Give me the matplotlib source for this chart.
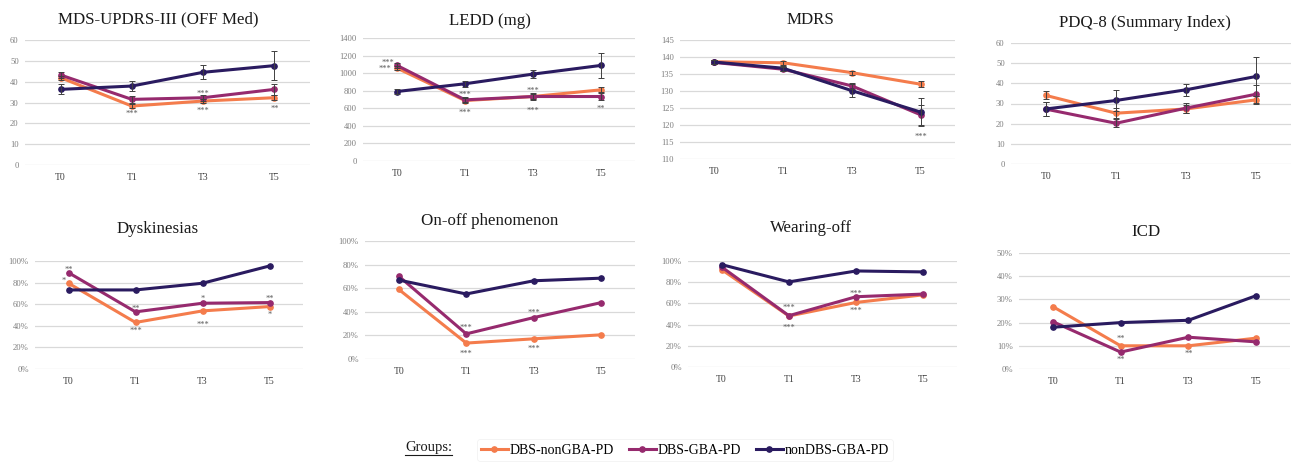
import matplotlib
matplotlib.use('Agg')
import matplotlib.pyplot as plt
import matplotlib.ticker as mticker
from matplotlib.lines import Line2D

plt.rcParams['font.family'] = ['Liberation Serif', 'DejaVu Serif']

W, H = 1294, 462

timepoints = ['T0', 'T1', 'T3', 'T5']
groups = ['DBS-nonGBA-PD', 'DBS-GBA-PD', 'nonDBS-GBA-PD']
colors = ['#F47C4C', '#962A6E', '#2A1B60']

# order of series in every list: DBS-nonGBA-PD, DBS-GBA-PD, nonDBS-GBA-PD
updrs_mean = [[41.9, 28.3, 30.7, 32.3], [43.2, 31.5, 32.3, 36.3], [36.3, 37.9, 44.5, 47.7]]
updrs_err = [[1.0, 1.0, 1.0, 1.2], [1.5, 1.5, 1.5, 2.5], [2.4, 2.4, 3.3, 6.8]]

ledd_mean = [[1057, 688, 734, 810], [1088, 696, 734, 734], [791, 879, 989, 1088]]
ledd_err = [[25, 25, 30, 30], [30, 30, 35, 45], [30, 35, 45, 143]]

mdrs_mean = [[138.6, 138.3, 135.4, 132.0], [138.4, 136.4, 131.5, 123.0], [138.5, 136.7, 130.1, 123.8]]
mdrs_err = [[0.6, 0.6, 0.6, 0.8], [0.6, 0.6, 1.0, 3.0], [0.6, 0.8, 2.0, 4.0]]

pdq_mean = [[34.0, 25.2, 27.3, 31.8], [27.2, 20.2, 27.7, 34.6], [27.3, 31.5, 36.8, 43.4]]
pdq_err = [[2.0, 2.5, 2.0, 2.0], [3.5, 2.0, 2.5, 4.5], [3.5, 5.3, 3.0, 9.5]]

dysk_pct = [[79.4, 43.1, 53.8, 57.8], [89.2, 52.9, 60.9, 61.5], [73.2, 73.2, 79.4, 95.4]]
onoff_pct = [[59.0, 13.5, 17.1, 20.5], [70.2, 21.3, 35.1, 47.8], [66.9, 55.1, 66.3, 68.5]]
wear_pct = [[91.9, 48.1, 60.9, 68.1], [94.4, 48.4, 66.3, 68.8], [96.6, 80.3, 90.6, 89.7]]
icd_pct = [[26.9, 10.0, 10.0, 13.3], [20.4, 7.3, 13.7, 11.7], [18.0, 20.0, 21.0, 31.6]]

# significance marks: (timepoint index, x shift, y value, text)
updrs_sig = [(1, 0, 25.6, '***'), (2, 0, 35.5, '***'), (2, 0, 27.2, '***'), (3, 0, 28.0, '**')]
ledd_sig = [(0, -0.13, 1150, '***'), (0, -0.18, 1075, '***'), (1, 0, 780, '***'), (1, 0, 574, '***'),
            (2, 0, 829, '***'), (2, 0, 601, '***'), (3, 0, 628, '**')]
mdrs_sig = [(3, 0, 117.4, '***')]
dysk_sig = [(0, 0, 93.8, '**'), (0, -0.07, 83.7, '*'), (1, 0, 58.5, '**'), (1, 0, 37.8, '***'),
            (2, 0, 67.0, '*'), (2, 0, 43.4, '***'), (3, 0, 67.0, '**'), (3, 0, 52.3, '*')]
onoff_sig = [(1, 0, 28.9, '***'), (1, 0, 6.5, '***'), (2, 0, 41.0, '***'), (2, 0, 10.7, '***')]
wear_sig = [(1, 0, 58.4, '***'), (1, 0, 39.7, '***'), (2, 0, 71.6, '***'), (2, 0, 55.3, '***')]
icd_sig = [(1, 0, 14.0, '**'), (1, 0, 5.0, '**'), (2, 0, 7.6, '**')]

# title, means, errors, y range, y step, percent?, marks, plot box px (l, r, top, bottom), title px
panels = [
    ('MDS-UPDRS-III (OFF Med)', updrs_mean, updrs_err, (0, 60), 10, False, updrs_sig, (25, 310, 40, 165), (158, 19)),
    ('LEDD (mg)', ledd_mean, ledd_err, (0, 1400), 200, False, ledd_sig, (363, 635, 38, 161), (490, 21)),
    ('MDRS', mdrs_mean, mdrs_err, (110, 145), 5, False, mdrs_sig, (680, 955, 40, 159), (810, 20)),
    ('PDQ-8 (Summary Index)', pdq_mean, pdq_err, (0, 60), 10, False, [], (1011, 1291, 43, 164), (1145, 23)),
    ('Dyskinesias', dysk_pct, None, (0, 100), 20, True, dysk_sig, (35, 303, 261, 369), (158, 229)),
    ('On-off phenomenon', onoff_pct, None, (0, 100), 20, True, onoff_sig, (365, 635, 241, 359), (490, 221)),
    ('Wearing-off', wear_pct, None, (0, 100), 20, True, wear_sig, (688, 957, 261, 367), (811, 228)),
    ('ICD', icd_pct, None, (0, 50), 10, True, icd_sig, (1019, 1290, 253, 369), (1146, 232)),
]

fig = plt.figure(figsize=(W / 100, H / 100), dpi=100)

for title, means, errs, ylim, step, pct, sig, box, tpos in panels:
    l, r, t, b = box
    ax = fig.add_axes([l / W, 1 - b / H, (r - l) / W, (b - t) / H])
    x = range(len(timepoints))
    for i, g in enumerate(groups):
        ax.plot(x, means[i], color=colors[i], lw=2.2, marker='o', ms=3.8,
                clip_on=False, zorder=3 + i)
        if errs is not None:
            ax.errorbar(x, means[i], yerr=errs[i], fmt='none', ecolor='#404040',
                        elinewidth=0.7, capsize=2, capthick=0.7, zorder=6)
    for ti, dx, yv, txt in sig:
        ax.annotate(txt, (ti + dx, yv), xytext=(0, -3.3), textcoords='offset points',
                    ha='center', va='baseline', fontsize=6, color='#595959', zorder=8)
    ax.set_xlim(-0.5, 3.5)
    ax.set_ylim(*ylim)
    ax.set_xticks(list(x))
    ax.set_xticklabels(timepoints)
    ax.set_yticks(range(ylim[0], ylim[1] + 1, step))
    if pct:
        ax.yaxis.set_major_formatter(mticker.PercentFormatter(xmax=100, decimals=0))
    for s in ax.spines.values():
        s.set_visible(False)
    ax.yaxis.grid(True, color='#d9d9d9', lw=0.9)
    ax.set_axisbelow(True)
    ax.tick_params(axis='y', length=0, pad=4.5, labelsize=6.2, labelcolor='#7f7f7f')
    ax.tick_params(axis='x', length=0, pad=6, labelsize=7, labelcolor='#404040')
    fig.text(tpos[0] / W, 1 - tpos[1] / H, title, ha='center', va='center',
             fontsize=12.2, color='#1a1a1a')

# legend
handles = [Line2D([], [], color=c, lw=2.2, marker='o', ms=3.8) for c in colors]
leg = fig.legend(handles, groups, loc='center left', bbox_to_anchor=(477 / W, 1 - 450 / H),
                 ncol=3, fontsize=10, frameon=True, handlelength=1.9, handletextpad=0.15,
                 columnspacing=1.1, numpoints=1, borderaxespad=0, borderpad=0.3)
leg.get_frame().set_edgecolor('#f0f0f0')
leg.get_frame().set_linewidth(0.6)

gt = fig.text(405 / W, 1 - 448 / H, 'Groups:', ha='left', va='center', fontsize=10.5, color='#1a1a1a')
fig.canvas.draw()
bb = gt.get_window_extent()
fig.add_artist(Line2D([bb.x0 / W, bb.x1 / W], [(bb.y0 - 0.5) / H, (bb.y0 - 0.5) / H],
                      transform=fig.transFigure, color='#1a1a1a', lw=0.8))

fig.savefig('out.png', dpi=100)
